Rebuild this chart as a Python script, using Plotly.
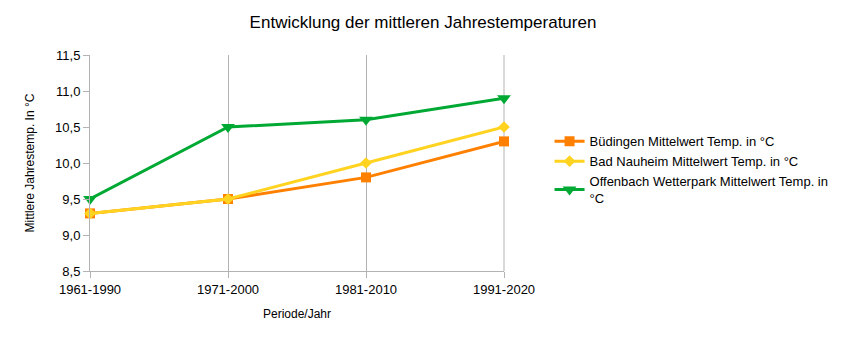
import plotly.graph_objects as go

perioden = ["1961-1990", "1971-2000", "1981-2010", "1991-2020"]
buedingen = [9.3, 9.5, 9.8, 10.3]
bad_nauheim = [9.3, 9.5, 10.0, 10.5]
offenbach = [9.5, 10.5, 10.6, 10.9]
y_ticks = [8.5, 9.0, 9.5, 10.0, 10.5, 11.0, 11.5]

FONT = "Liberation Sans, Arial, sans-serif"
GRID = "#b3b3b3"

fig = go.Figure()
fig.add_trace(go.Scatter(
    x=perioden, y=buedingen, mode="lines+markers", cliponaxis=False,
    name="Büdingen Mittelwert Temp. in °C",
    line=dict(color="#ff8000", width=3),
    marker=dict(symbol="square", size=10, color="#ff8000"),
))
fig.add_trace(go.Scatter(
    x=perioden, y=bad_nauheim, mode="lines+markers", cliponaxis=False,
    name="Bad Nauheim Mittelwert Temp. in °C",
    line=dict(color="#ffd320", width=3),
    marker=dict(symbol="diamond", size=9, color="#ffd320"),
))
fig.add_trace(go.Scatter(
    x=perioden, y=offenbach, mode="lines+markers", cliponaxis=False,
    name="Offenbach Wetterpark Mittelwert Temp. in<br>°C",
    line=dict(color="#00a933", width=3),
    marker=dict(symbol="triangle-down", size=12, color="#00a933"),
))

# right-hand edge of the plot area gets the same grey rule as the grid
fig.add_shape(type="line", xref="x domain", yref="y domain",
              x0=1, x1=1, y0=0, y1=1, layer="below",
              line=dict(color=GRID, width=1))

fig.update_layout(
    width=846, height=340,
    margin=dict(l=90, r=337, t=55, b=69),
    paper_bgcolor="white", plot_bgcolor="white",
    separators=",.",
    font=dict(family=FONT, size=13, color="black"),
    title=dict(text="Entwicklung der mittleren Jahrestemperaturen",
               x=0.5, xanchor="center", y=0.935, yanchor="middle",
               font=dict(family=FONT, size=17, color="black")),
    showlegend=True,
    legend=dict(x=1.11, xanchor="left", y=0.67, yanchor="top",
                font=dict(family=FONT, size=13, color="black"),
                tracegroupgap=0, itemwidth=30, bgcolor="rgba(0,0,0,0)"),
    xaxis=dict(
        type="category", range=[0, 3],
        showgrid=True, gridcolor=GRID, gridwidth=1,
        showline=True, linecolor=GRID, linewidth=1,
        ticks="outside", ticklen=6, tickcolor=GRID,
        tickfont=dict(family=FONT, size=13, color="black"),
        title=dict(text="Periode/Jahr", standoff=14,
                   font=dict(family=FONT, size=12, color="black")),
        zeroline=False,
    ),
    yaxis=dict(
        range=[8.5, 11.5], tickvals=y_ticks, tickformat=".1f",
        showgrid=False,
        showline=True, linecolor=GRID, linewidth=1,
        ticks="outside", ticklen=6, tickcolor=GRID,
        tickfont=dict(family=FONT, size=13, color="black"),
        title=dict(text="Mittlere Jahrestemp. In °C", standoff=17,
                   font=dict(family=FONT, size=12, color="black")),
        zeroline=False,
    ),
)

fig.write_html("out.html")
